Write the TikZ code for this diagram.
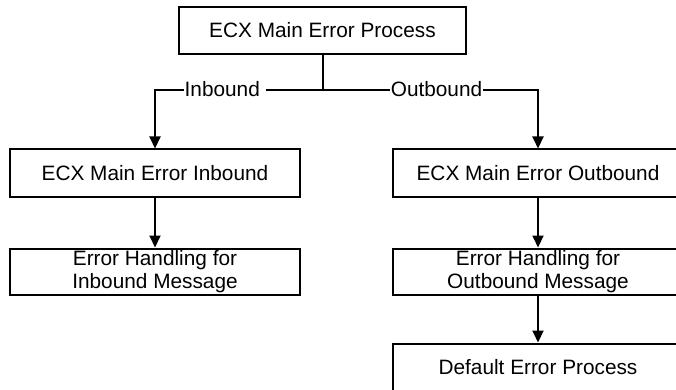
\documentclass[tikz,border=0pt]{standalone}
\usepackage{fontspec}
\setmainfont{Liberation Sans}
\usetikzlibrary{arrows.meta, positioning}

\begin{document}
\begin{tikzpicture}[x=1pt, y=-1pt,
            procbox/.style={
                rectangle, draw=black, line width=2pt,
                minimum width=290pt, minimum height=47pt,
                inner sep=0pt, align=center,
                font=\fontsize{20.8}{23}\selectfont
            },
            flow/.style={line width=2pt, -{Triangle[width=11pt,length=12pt]}},
            branch/.style={fill=white, inner xsep=0.5pt, inner ysep=2pt, font=\fontsize{20.8}{23}\selectfont}
        ]
            \clip (0,0) rectangle (676,390);
            % top of the tree
            \node[procbox, minimum width=287pt] (main) at (322.5,30.5) {ECX Main Error Process};
            \path (main.south) ++(0,35) coordinate (fork);

            % inbound side
            \node[procbox] (inmain) at (155,173) {ECX Main Error Inbound};
            \node[procbox, minimum height=46pt, below=50pt of inmain] (inmsg) {Error Handling for\\Inbound Message};

            % outbound side
            \node[procbox] (outmain) at (538,173) {ECX Main Error Outbound};
            \node[procbox, minimum height=46pt, below=50pt of outmain] (outmsg) {Error Handling for\\Outbound Message};
            \node[procbox, minimum height=48pt, below=47pt of outmsg] (deflt) {Default Error Process};

            \draw[line width=2pt] (main) -- (fork);
            \draw[flow] (fork) -| (inmain);
            \draw[flow] (fork) -| (outmain);
            \node[branch, anchor=west] (inlbl) at (184,89) {Inbound\rule{6pt}{0pt}};
            \node[branch] (outlbl) at (436.5,89) {Outbound};

            \draw[flow] (inmain) -- (inmsg);
            \draw[flow] (outmain) -- (outmsg);
            \draw[flow] (outmsg) -- (deflt);
        \end{tikzpicture}
\end{document}
